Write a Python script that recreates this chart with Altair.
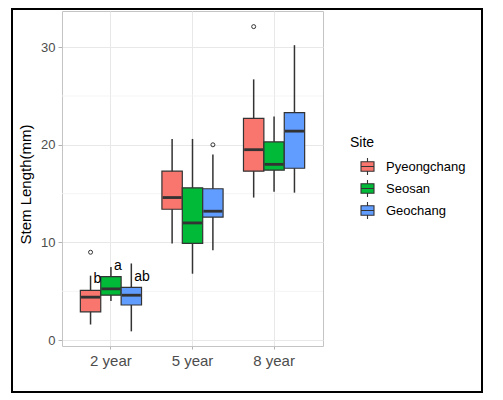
import altair as alt
import pandas as pd

years = ["2 year", "5 year", "8 year"]
sites = ["Pyeongchang", "Seosan", "Geochang"]
colors = ["#F8766D", "#00BA38", "#619CFF"]

# order: for each year, Pyeongchang, Seosan, Geochang
whisker_low = [1.6, 4.0, 0.9, 9.9, 6.8, 9.2, 14.6, 15.2, 15.1]
q1 = [2.9, 4.6, 3.6, 13.4, 9.9, 12.6, 17.3, 17.4, 17.6]
median = [4.4, 5.25, 4.6, 14.6, 12.0, 13.2, 19.5, 18.0, 21.4]
q3 = [5.1, 6.5, 5.4, 17.3, 15.6, 15.5, 22.7, 20.3, 23.3]
whisker_high = [6.6, 7.5, 7.85, 20.6, 20.6, 19.0, 26.7, 22.9, 30.2]

outlier_year = ["2 year", "5 year", "8 year"]
outlier_site = ["Pyeongchang", "Geochang", "Pyeongchang"]
outlier_value = [9.0, 20.0, 32.1]

letter_text = ["b", "a", "ab"]
letter_year = ["2 year", "2 year", "2 year"]
letter_site = ["Pyeongchang", "Seosan", "Geochang"]
letter_y = [5.85, 7.2, 6.05]

minor_grid = [5, 15, 25]

FONT = "Liberation Sans"
YT = "Stem Length(mm)"

box_df = pd.DataFrame({
    "year": [y for y in years for _ in sites],
    "site": [s for _ in years for s in sites],
    "low": whisker_low, "q1": q1, "median": median, "q3": q3, "high": whisker_high,
})
out_df = pd.DataFrame({"year": outlier_year, "site": outlier_site, "value": outlier_value})
let_df = pd.DataFrame({"year": letter_year, "site": letter_site, "text": letter_text, "y": letter_y})
minor_df = pd.DataFrame({"minor": minor_grid})
one = pd.DataFrame({"a": [0]})

yscale = alt.Scale(domain=[-0.6, 33.7], nice=False, zero=False)
xenc = alt.X("year:N", scale=alt.Scale(domain=years, paddingInner=0.25, paddingOuter=0.225),
             axis=alt.Axis(title=None, labelAngle=0, bandPosition=0.5, labelFontSize=15,
                           tickSize=3, labelPadding=4, grid=True))
xoff = alt.XOffset("site:N", scale=alt.Scale(domain=sites, paddingInner=0, paddingOuter=0))

minor = alt.Chart(minor_df).mark_rule(color="#f1f1f1", strokeWidth=0.8).encode(
    y=alt.Y("minor:Q", scale=yscale, title=YT)
)

whisk = alt.Chart(box_df).mark_rule(color="#333333", strokeWidth=1.5).encode(
    x=xenc, xOffset=xoff,
    y=alt.Y("low:Q", scale=yscale, title=YT,
            axis=alt.Axis(values=[0, 10, 20, 30], labelFontSize=13, tickSize=4, labelPadding=3,
                          titleFontSize=15, titlePadding=7, titleColor="black",
                          titleFontWeight="normal", titleY=173)),
    y2="high:Q",
)

boxes = alt.Chart(box_df).mark_bar(stroke="#333333", strokeWidth=1.2, opacity=1).encode(
    x=xenc, xOffset=xoff,
    y=alt.Y("q1:Q", scale=yscale, title=YT),
    y2="q3:Q",
    color=alt.Color("site:N", scale=alt.Scale(domain=sites, range=colors),
                    legend=alt.Legend(title="Site")),
)

med = alt.Chart(box_df).mark_tick(color="#333333", thickness=2.8, size=19, opacity=1).encode(
    x=xenc, xOffset=xoff,
    y=alt.Y("median:Q", scale=yscale, title=YT),
)

outl = alt.Chart(out_df).mark_point(shape="circle", filled=False, size=16, color="#333333",
                                    strokeWidth=1, opacity=1).encode(
    x=xenc, xOffset=xoff,
    y=alt.Y("value:Q", scale=yscale, title=YT),
)

letters = alt.Chart(let_df).mark_text(align="left", baseline="alphabetic", dx=3, fontSize=14,
                                      font=FONT, color="black").encode(
    x=xenc, xOffset=xoff,
    y=alt.Y("y:Q", scale=yscale, title=YT),
    text="text:N",
)

frame = alt.Chart(one).mark_rect(fillOpacity=0, stroke="black", strokeWidth=2).encode(
    x=alt.value(-50), x2=alt.value(420), y=alt.value(-2), y2=alt.value(381)
)

chart = alt.layer(minor, whisk, boxes, med, outl, letters, frame).properties(
    width=261, height=335,
    autosize=alt.AutoSizeParams(type="none"),
    padding={"left": 54, "top": 3, "right": 170, "bottom": 50},
).configure_view(
    stroke="#c4c4c4", strokeWidth=1
).configure_axis(
    labelFont=FONT, titleFont=FONT, gridColor="#e8e8e8", gridWidth=1,
    tickColor="#b3b3b3", labelColor="#4d4d4d", domain=False,
).configure_legend(
    orient="none", legendX=288, legendY=125,
    titleFont=FONT, titleFontSize=14, titleColor="black", titleFontWeight="normal",
    titlePadding=9,
    labelFont=FONT, labelFontSize=13, labelColor="black",
    symbolType="M-1,-0.73H1V0.73H-1Z M-1,0H1 M0,-0.73V-1.3 M0,0.73V1.3",
    symbolSize=169, symbolStrokeColor="#333333", symbolStrokeWidth=1.1,
    symbolOffset=10, labelOffset=11, rowPadding=-1, symbolOpacity=1,
)

chart.save("out.html", embed_options={"renderer": "svg", "actions": False})
